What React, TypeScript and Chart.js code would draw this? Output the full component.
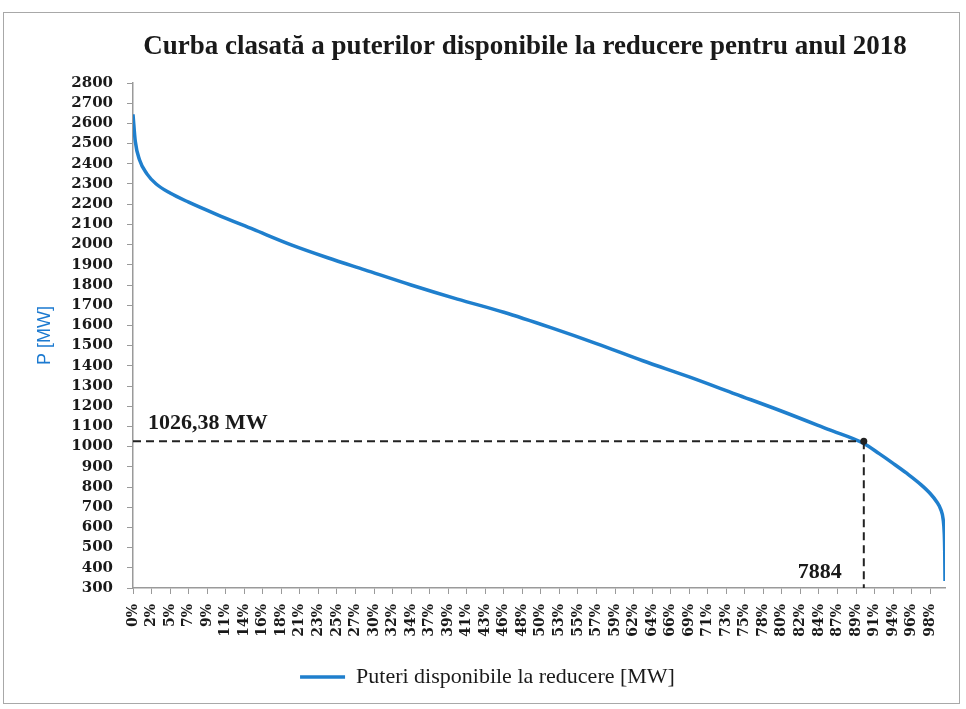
import React, { useEffect, useRef } from "react";
import { Chart, registerables } from "chart.js";

Chart.register(...registerables);

const TITLE = "Curba clasată a puterilor disponibile la reducere pentru anul 2018";
const SERIES_LABEL = "Puteri disponibile la reducere [MW]";
const Y_TITLE = "P [MW]";

// Ordered hours of the year (x) and available power for reduction in MW (y)
const HOURS = [0, 25, 70, 150, 250, 400, 600, 900, 1300, 1700, 2100, 2500, 3000, 3500, 4000, 4500, 5000, 5500, 6000, 6500, 7000, 7500, 7884, 8050, 8200, 8350, 8500, 8600, 8670, 8715, 8740, 8752, 8757, 8760];
const POWER = [2645, 2510, 2420, 2350, 2300, 2255, 2210, 2150, 2075, 2000, 1935, 1875, 1800, 1730, 1665, 1590, 1510, 1425, 1345, 1260, 1175, 1085, 1015, 965, 917, 867, 812, 768, 727, 688, 640, 570, 480, 335];

const X_MAX_HOURS = 8760;
const X_TICK_HOURS = [0, 200, 400, 600, 800, 1000, 1200, 1400, 1600, 1800, 2000, 2200, 2400, 2600, 2800, 3000, 3200, 3400, 3600, 3800, 4000, 4200, 4400, 4600, 4800, 5000, 5200, 5400, 5600, 5800, 6000, 6200, 6400, 6600, 6800, 7000, 7200, 7400, 7600, 7800, 8000, 8200, 8400, 8600];
const X_TICK_LABELS = ["0%", "2%", "5%", "7%", "9%", "11%", "14%", "16%", "18%", "21%", "23%", "25%", "27%", "30%", "32%", "34%", "37%", "39%", "41%", "43%", "46%", "48%", "50%", "53%", "55%", "57%", "59%", "62%", "64%", "66%", "69%", "71%", "73%", "75%", "78%", "80%", "82%", "84%", "87%", "89%", "91%", "94%", "96%", "98%"];

const Y_MIN = 300;
const Y_MAX = 2800;
const Y_STEP = 100;

const MARK_HOUR = 7884;
const MARK_POWER = 1026.38;
const MARK_POWER_LABEL = "1026,38 MW";
const MARK_HOUR_LABEL = "7884";

const LINE_COLOR = "#1f7fcd";
const AXIS_COLOR = "#9a9a9a";
const TEXT_COLOR = "#1a1a1a";

const titlePlugin = {
  id: "customTitle",
  afterDraw(chart: any) {
    const { ctx } = chart;
    ctx.save();
    ctx.fillStyle = TEXT_COLOR;
    ctx.font = "bold 27px 'Liberation Serif'";
    ctx.textAlign = "center";
    ctx.textBaseline = "middle";
    ctx.fillText(TITLE, 525, 47);
    ctx.restore();
  },
};

const markerPlugin = {
  id: "marker",
  afterDatasetsDraw(chart: any) {
    const { ctx, chartArea, scales } = chart;
    const x = scales.x;
    const y = scales.y;
    const px = x.getPixelForValue(MARK_HOUR);
    const py = y.getPixelForValue(MARK_POWER);
    ctx.save();
    ctx.strokeStyle = "#222";
    ctx.lineWidth = 2;
    ctx.setLineDash([8, 5]);
    ctx.beginPath();
    ctx.moveTo(chartArea.left, py);
    ctx.lineTo(px, py);
    ctx.stroke();
    ctx.beginPath();
    ctx.moveTo(px, py);
    ctx.lineTo(px, chartArea.bottom);
    ctx.stroke();
    ctx.setLineDash([]);
    ctx.fillStyle = "#222";
    ctx.beginPath();
    ctx.arc(px, py, 3.5, 0, Math.PI * 2);
    ctx.fill();
    ctx.fillStyle = TEXT_COLOR;
    ctx.font = "bold 22px 'Liberation Serif'";
    ctx.textBaseline = "alphabetic";
    ctx.textAlign = "left";
    ctx.fillText(MARK_POWER_LABEL, chartArea.left + 15, py - 12);
    ctx.textAlign = "right";
    ctx.fillText(MARK_HOUR_LABEL, px - 22, chartArea.bottom - 10);
    ctx.restore();
  },
};

export default function App() {
  const canvasRef = useRef<HTMLCanvasElement | null>(null);

  useEffect(() => {
    if (!canvasRef.current) return;
    const points = HOURS.map((h, i) => ({ x: h, y: POWER[i] }));
    const chart = new Chart(canvasRef.current, {
      type: "line",
      data: {
        datasets: [
          {
            label: SERIES_LABEL,
            data: points,
            borderColor: LINE_COLOR,
            backgroundColor: LINE_COLOR,
            borderWidth: 3.5,
            pointRadius: 0,
            fill: false,
            cubicInterpolationMode: "monotone",
            pointStyle: "line",
          },
        ],
      },
      plugins: [markerPlugin, titlePlugin],
      options: {
        animation: false,
        responsive: false,
        maintainAspectRatio: false,
        layout: { padding: { left: 30, right: 21, top: 83, bottom: 11 } },
        plugins: {
          title: { display: false },
          legend: {
            display: true,
            position: "bottom",
            labels: {
              usePointStyle: true,
              pointStyleWidth: 45,
              color: TEXT_COLOR,
              font: { family: "'Liberation Serif'", size: 22 },
              padding: 8,
            },
          },
          tooltip: { enabled: false },
        },
        scales: {
          x: {
            type: "linear",
            min: 0,
            max: X_MAX_HOURS,
            afterBuildTicks: (scale: any) => {
              scale.ticks = X_TICK_HOURS.map((v) => ({ value: v }));
            },
            afterFit: (scale: any) => {
              scale.height = 70;
            },
            grid: { display: true, drawOnChartArea: false, tickLength: 6, color: AXIS_COLOR },
            border: { display: true, color: AXIS_COLOR, width: 1.5 },
            ticks: {
              autoSkip: false,
              minRotation: 90,
              maxRotation: 90,
              padding: 10,
              color: TEXT_COLOR,
              font: { family: "'DejaVu Serif'", size: 14, weight: "bold" },
              callback: (_v: any, i: number) => X_TICK_LABELS[i],
            },
          },
          y: {
            type: "linear",
            min: Y_MIN,
            max: Y_MAX,
            afterFit: (scale: any) => {
              scale.width = 103;
            },
            grid: { display: true, drawOnChartArea: false, tickLength: 6, color: AXIS_COLOR },
            border: { display: true, color: AXIS_COLOR, width: 1.5 },
            title: {
              display: true,
              text: Y_TITLE,
              color: "#1c7ad0",
              font: { family: "'Liberation Sans'", size: 18 },
              padding: { top: 4, bottom: 0 },
            },
            ticks: {
              stepSize: Y_STEP,
              autoSkip: false,
              padding: 14,
              color: TEXT_COLOR,
              font: { family: "'DejaVu Serif'", size: 15, weight: "bold", lineHeight: 1 },
              callback: (v: any) => String(v),
            },
          },
        },
      },
    });
    return () => chart.destroy();
  }, []);

  return (
    <div style={{ position: "absolute", left: 0, top: 0, width: 966, height: 709, background: "#fff" }}>
      <div
        style={{
          position: "absolute",
          left: 3,
          top: 12,
          width: 957,
          height: 692,
          border: "1px solid #a8a8a8",
          boxSizing: "border-box",
        }}
      />
      <canvas ref={canvasRef} width={966} height={709} style={{ position: "absolute", left: 0, top: 0, width: 966, height: 709 }} />
    </div>
  );
}
